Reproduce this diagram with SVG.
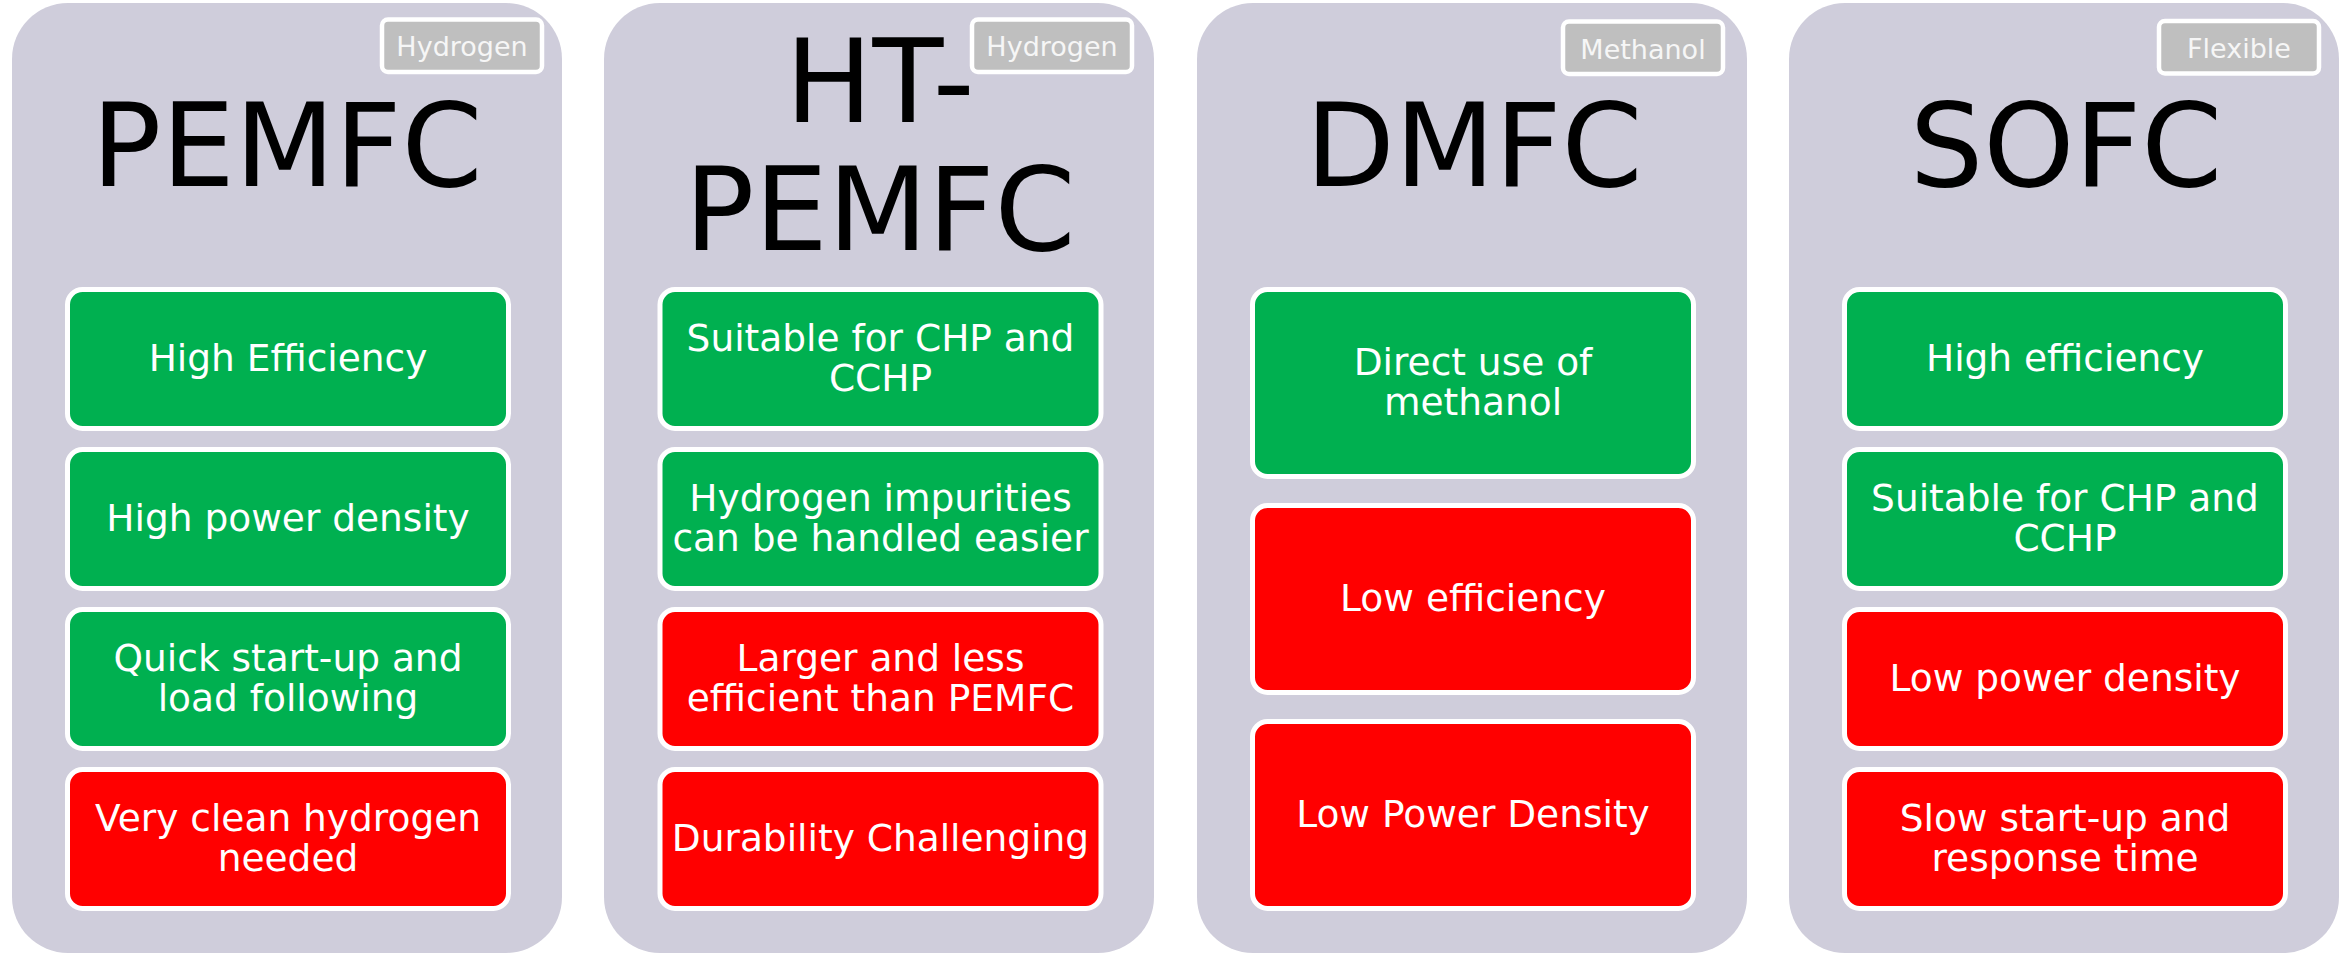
<svg xmlns="http://www.w3.org/2000/svg" width="2351" height="953" viewBox="0 0 2351 953">
  <style>
    .panel { fill: #CFCDDB; }
    .tag rect { fill: #BFBFBF; stroke: #FFFFFF; stroke-width: 4.5; }
    .tag text { fill: #F6F6F6; font-family: "DejaVu Sans", Verdana, sans-serif; font-size: 27px; text-anchor: middle; }
    .title { fill: #000000; font-family: "DejaVu Sans", Verdana, sans-serif; font-size: 116px; text-anchor: middle; }
    .box rect { stroke: #FFFFFF; stroke-width: 5; }
    .box text { fill: #FFFFFF; font-family: "DejaVu Sans", Verdana, sans-serif; font-size: 37.5px; text-anchor: middle; }
    .pro rect { fill: #00B050; }
    .con rect { fill: #FF0000; }
  </style>
  <rect width="2351" height="953" fill="#FFFFFF"/>

  <!-- Column 1: PEMFC -->
  <g id="pemfc">
    <rect class="panel" x="12" y="3" width="550" height="950" rx="56"/>
    <g class="tag"><rect x="382" y="19.5" width="160" height="52.5" rx="6"/><text x="462" y="55.5">Hydrogen</text></g>
    <text class="title" x="287" y="186">PEMFC</text>
    <g id="pemfc-1" class="box pro"><rect x="67.5" y="289.5" width="441" height="139" rx="15"/><text x="288" y="371">High Efficiency</text></g>
    <g id="pemfc-2" class="box pro"><rect x="67.5" y="449.5" width="441" height="139" rx="15"/><text x="288" y="531">High power density</text></g>
    <g id="pemfc-3" class="box pro"><rect x="67.5" y="609.5" width="441" height="139" rx="15"/><text x="288" y="671">Quick start-up and</text><text x="288" y="711">load following</text></g>
    <g id="pemfc-4" class="box con"><rect x="67.5" y="769.5" width="441" height="139" rx="15"/><text x="288" y="831">Very clean hydrogen</text><text x="288" y="871">needed</text></g>
  </g>

  <!-- Column 2: HT-PEMFC -->
  <g id="ht-pemfc">
    <rect class="panel" x="604" y="3" width="550" height="950" rx="56"/>
    <g class="tag"><rect x="972" y="19.5" width="160" height="52.5" rx="6"/><text x="1052" y="55.5">Hydrogen</text></g>
    <text class="title" x="880" y="122">HT-</text>
    <text class="title" x="880" y="250">PEMFC</text>
    <g id="ht-pemfc-1" class="box pro"><rect x="660" y="289.5" width="441" height="139" rx="15"/><text x="880.5" y="351">Suitable for CHP and</text><text x="880.5" y="391">CCHP</text></g>
    <g id="ht-pemfc-2" class="box pro"><rect x="660" y="449.5" width="441" height="139" rx="15"/><text x="880.5" y="511">Hydrogen impurities</text><text x="880.5" y="551">can be handled easier</text></g>
    <g id="ht-pemfc-3" class="box con"><rect x="660" y="609.5" width="441" height="139" rx="15"/><text x="880.5" y="671">Larger and less</text><text x="880.5" y="711">efficient than PEMFC</text></g>
    <g id="ht-pemfc-4" class="box con"><rect x="660" y="769.5" width="441" height="139" rx="15"/><text x="880.5" y="851">Durability Challenging</text></g>
  </g>

  <!-- Column 3: DMFC -->
  <g id="dmfc">
    <rect class="panel" x="1197" y="3" width="550" height="950" rx="56"/>
    <g class="tag"><rect x="1563" y="21.5" width="160" height="52.5" rx="6"/><text x="1643" y="58.5">Methanol</text></g>
    <text class="title" x="1474" y="186">DMFC</text>
    <g id="dmfc-1" class="box pro"><rect x="1252.5" y="289.5" width="441" height="187" rx="15"/><text x="1473" y="375">Direct use of</text><text x="1473" y="415">methanol</text></g>
    <g id="dmfc-2" class="box con"><rect x="1252.5" y="505.5" width="441" height="187" rx="15"/><text x="1473" y="611">Low efficiency</text></g>
    <g id="dmfc-3" class="box con"><rect x="1252.5" y="721.5" width="441" height="187" rx="15"/><text x="1473" y="827">Low Power Density</text></g>
  </g>

  <!-- Column 4: SOFC -->
  <g id="sofc">
    <rect class="panel" x="1789" y="3" width="550" height="950" rx="56"/>
    <g class="tag"><rect x="2159" y="21" width="160" height="52.5" rx="6"/><text x="2239" y="57.5">Flexible</text></g>
    <text class="title" x="2066" y="186">SOFC</text>
    <g id="sofc-1" class="box pro"><rect x="1844.5" y="289.5" width="441" height="139" rx="15"/><text x="2065" y="371">High efficiency</text></g>
    <g id="sofc-2" class="box pro"><rect x="1844.5" y="449.5" width="441" height="139" rx="15"/><text x="2065" y="511">Suitable for CHP and</text><text x="2065" y="551">CCHP</text></g>
    <g id="sofc-3" class="box con"><rect x="1844.5" y="609.5" width="441" height="139" rx="15"/><text x="2065" y="691">Low power density</text></g>
    <g id="sofc-4" class="box con"><rect x="1844.5" y="769.5" width="441" height="139" rx="15"/><text x="2065" y="831">Slow start-up and</text><text x="2065" y="871">response time</text></g>
  </g>
</svg>
